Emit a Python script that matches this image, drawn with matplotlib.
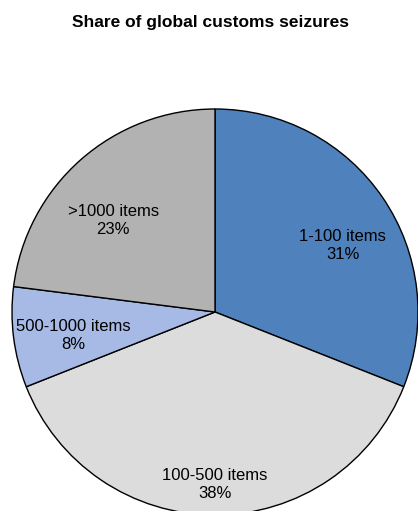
import matplotlib
matplotlib.use("Agg")
import matplotlib.pyplot as plt
import numpy as np

categories = ["1-100 items", "100-500 items", "500-1000 items", ">1000 items"]
shares = [31, 38, 8, 23]
colors = ["#4F81BD", "#DCDCDC", "#A7BAE6", "#B2B2B2"]

# label placement: (radial distance as fraction of radius, angular nudge in degrees)
label_place = [(0.71, -6.6), (0.85, 0.0), (0.71, 2.3), (0.675, 6.6)]

plt.rcParams["font.family"] = ["Liberation Sans", "DejaVu Sans"]

fig = plt.figure(figsize=(4.18, 5.11), dpi=100)
ax = fig.add_axes([0, 0, 1, 1])
ax.set_axis_off()

wedges, _ = ax.pie(
    shares,
    colors=colors,
    startangle=90,
    counterclock=False,
    radius=1.0,
    wedgeprops=dict(edgecolor="black", linewidth=1.0),
)

for w, cat, pct, (d, nudge) in zip(wedges, categories, shares, label_place):
    mid = np.deg2rad((w.theta1 + w.theta2) / 2 + nudge)
    ax.text(d * np.cos(mid), d * np.sin(mid), f"{cat}\n{pct}%",
            ha="center", va="center", fontsize=12, linespacing=1.25)

# pixel frame: pie centre at (215, 312), radius 203 px
cx, cy, r = 215, 312, 203
ax.set_xlim((0 - cx) / r, (418 - cx) / r)
ax.set_ylim((cy - 511) / r, (cy - 0) / r)
ax.set_aspect("auto")

fig.text(211 / 418, 1 - 27 / 511, "Share of global customs seizures",
         ha="center", va="baseline", fontsize=12.5, fontweight="bold")

fig.savefig("out.png", dpi=100)
